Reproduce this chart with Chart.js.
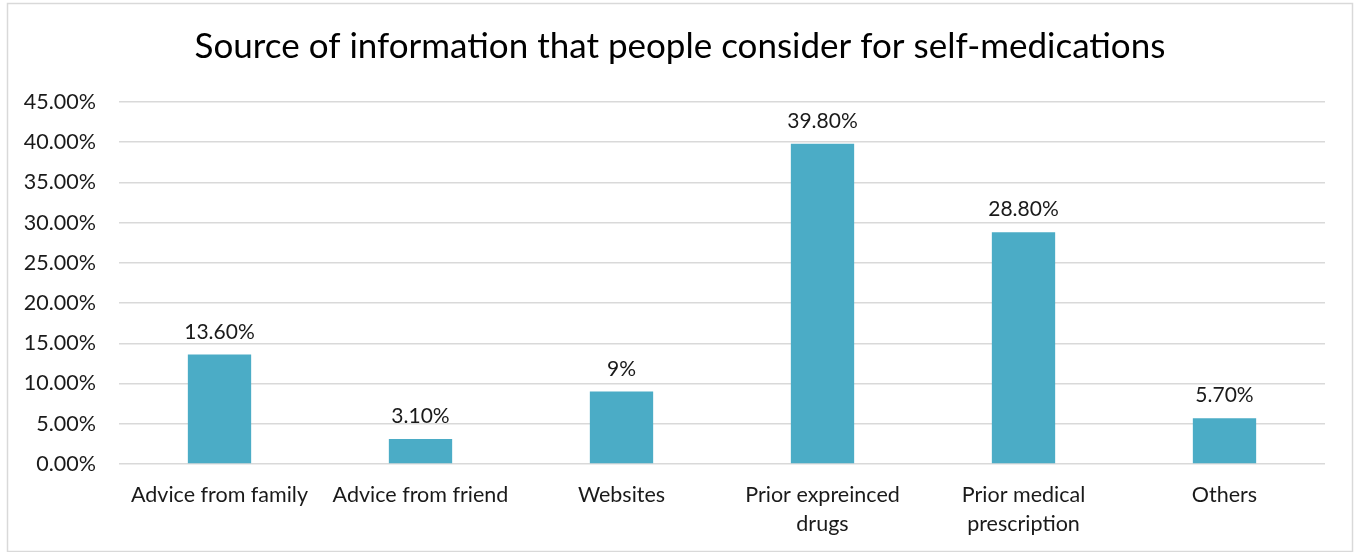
<!DOCTYPE html>
<html>
<head>
<meta charset="utf-8">
<script src="https://cdn.jsdelivr.net/npm/chart.js@4"></script>
<style>
  html, body { margin: 0; padding: 0; background: #fff; }
  #wrap { width: 1354px; height: 552px; }
</style>
</head>
<body>
<div id="wrap"><canvas id="myChart" width="1354" height="552"></canvas></div>
<script>
const categories = [
  'Advice from family',
  'Advice from friend',
  'Websites',
  ['Prior expreinced', 'drugs'],
  ['Prior medical', 'prescription'],
  'Others'
];
const shares = [13.6, 3.1, 9, 39.8, 28.8, 5.7];
const shareLabels = ['13.60%', '3.10%', '9%', '39.80%', '28.80%', '5.70%'];
const chartTitle = 'Source of information that people consider for self-medications';

const FONT = 'Lato, "Open Sans", sans-serif';

// outer frame and title, centred on the frame rather than the plot
const frame = {
  id: 'frame',
  beforeDraw(chart) {
    const c = chart.ctx;
    c.save();
    c.strokeStyle = '#d9d9d9';
    c.lineWidth = 1.5;
    c.strokeRect(7.5, 3.5, chart.width - 9, chart.height - 4);
    c.font = '35px ' + FONT;
    c.fillStyle = '#000';
    c.textAlign = 'center';
    c.textBaseline = 'middle';
    c.fillText(chartTitle, 680, 47);
    c.restore();
  }
};

// value labels above each bar
const valueLabels = {
  id: 'valueLabels',
  afterDatasetsDraw(chart) {
    const c = chart.ctx;
    const meta = chart.getDatasetMeta(0);
    c.save();
    c.font = '21px ' + FONT;
    c.fillStyle = '#1a1a1a';
    c.textAlign = 'center';
    c.textBaseline = 'alphabetic';
    meta.data.forEach((bar, i) => {
      c.fillText(shareLabels[i], bar.x, bar.y - 16);
    });
    c.restore();
  }
};

var ctx = document.getElementById('myChart').getContext('2d');
var myChart = new Chart(ctx, {
  type: 'bar',
  data: {
    labels: categories,
    datasets: [{
      label: 'Share',
      data: shares,
      backgroundColor: '#4BACC6',
      categoryPercentage: 1,
      barPercentage: 0.315
    }]
  },
  options: {
    responsive: false,
    animation: false,
    layout: { padding: { left: 0, right: 29, top: 102, bottom: 0 } },
    plugins: {
      legend: { display: false },
      tooltip: { enabled: false },
      title: { display: false }
    },
    scales: {
      x: {
        grid: { display: false, drawTicks: false },
        border: { display: false },
        ticks: {
          color: '#1a1a1a',
          font: { family: FONT, size: 21.5, lineHeight: 1.35 },
          padding: 17,
          maxRotation: 0,
          autoSkip: false
        },
        afterFit(s) { s.height = 88; }
      },
      y: {
        min: 0,
        max: 45,
        grid: { color: '#d9d9d9', lineWidth: 1.5, drawTicks: false },
        border: { display: false },
        ticks: {
          stepSize: 5,
          color: '#1a1a1a',
          font: { family: FONT, size: 21.5 },
          padding: 23,
          callback: v => v.toFixed(2) + '%'
        },
        afterFit(s) { s.width = 119; }
      }
    }
  },
  plugins: [frame, valueLabels]
});
</script>
</body>
</html>
